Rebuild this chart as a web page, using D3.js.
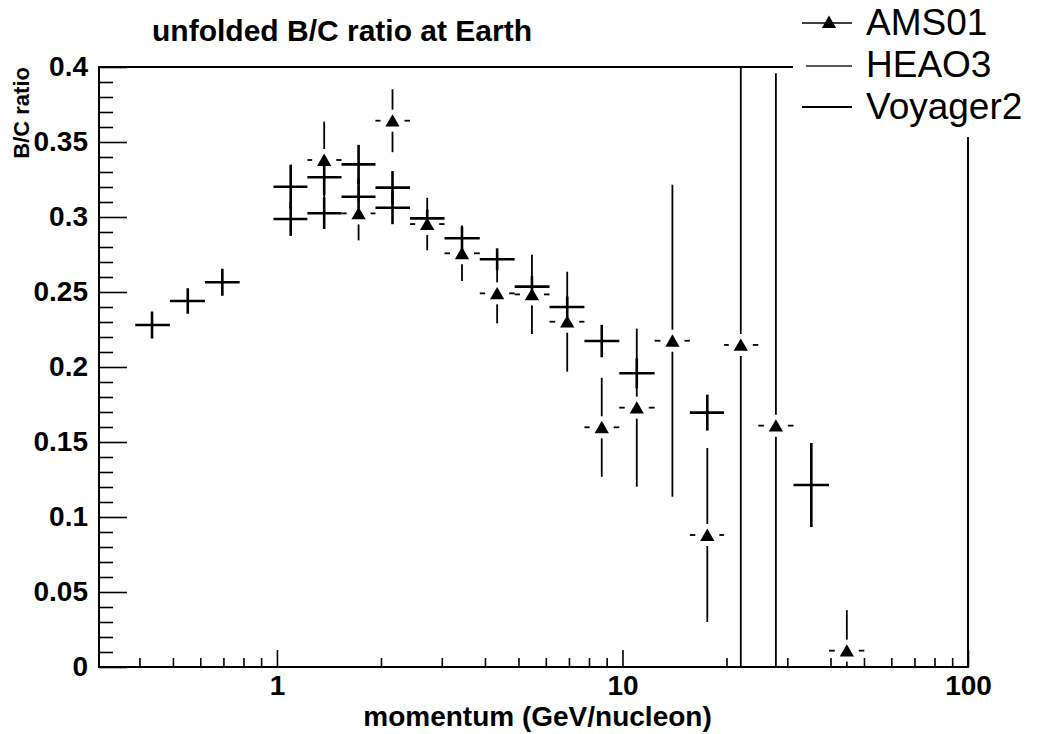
<!DOCTYPE html>
<html>
<head>
<meta charset="utf-8">
<script src="https://cdn.jsdelivr.net/npm/d3@7"></script>
<style>
  html, body { margin: 0; padding: 0; background: #fff; }
  svg { display: block; font-family: "Liberation Sans", Arial, Helvetica, sans-serif; }
</style>
</head>
<body>
<svg id="chart" width="1052" height="734"></svg>
<script>
// ---- data: B/C ratio versus kinetic energy per nucleon ----
// AMS01 (triangles)
const amsX    = [1.370, 1.723, 2.160, 2.722, 3.432, 4.338, 5.47, 6.92, 8.71, 11.0, 13.95, 17.6, 22.0, 27.8, 44.6];
const amsXLo  = [1.225, 1.538, 1.928, 2.427, 3.055, 3.864, 4.875, 6.15, 7.76, 9.79, 12.39, 15.67, 19.68, 24.72, 39.6];
const amsXHi  = [1.538, 1.928, 2.427, 3.055, 3.864, 4.875, 6.15, 7.76, 9.79, 12.39, 15.67, 19.68, 24.72, 31.26, 50.1];
const amsY    = [0.338, 0.3024, 0.3642, 0.2953, 0.2758, 0.2491, 0.2484, 0.2302, 0.1598, 0.1729, 0.2175, 0.088, 0.2147, 0.1609, 0.0109];
const amsErr  = [0.0256, 0.018, 0.021, 0.0175, 0.0185, 0.020, 0.0264, 0.0333, 0.033, 0.0527, 0.104, 0.058, 0.25, 0.235, 0.027];

// HEAO3 (crosses)
const heaoX   = [1.096, 1.370, 1.723, 2.160, 2.722, 3.432, 4.338, 5.47, 6.92, 8.71, 11.0, 17.6, 35.2];
const heaoXLo = [0.977, 1.225, 1.538, 1.928, 2.427, 3.055, 3.864, 4.875, 6.15, 7.76, 9.79, 15.67, 31.26];
const heaoXHi = [1.225, 1.538, 1.928, 2.427, 3.055, 3.864, 4.875, 6.15, 7.76, 9.79, 12.39, 19.68, 39.6];
const heaoY   = [0.3202, 0.3265, 0.3351, 0.3196, 0.2991, 0.2858, 0.2718, 0.2536, 0.240, 0.2173, 0.1958, 0.1696, 0.1213];
const heaoErr = [0.0147, 0.012, 0.013, 0.011, 0.006, 0.0078, 0.0073, 0.007, 0.007, 0.0108, 0.010, 0.012, 0.028];

// Voyager2 (crosses)
const voyX    = [0.435, 0.552, 0.695, 1.096, 1.370, 1.723, 2.160];
const voyXLo  = [0.389, 0.490, 0.619, 0.977, 1.225, 1.538, 1.928];
const voyXHi  = [0.490, 0.619, 0.780, 1.225, 1.538, 1.928, 2.427];
const voyY    = [0.228, 0.244, 0.2565, 0.2987, 0.3025, 0.3135, 0.3062];
const voyErr  = [0.009, 0.0085, 0.009, 0.0113, 0.0105, 0.012, 0.011];

// axis ticks and labels
const xMajorTicks = [1, 10, 100];
const xMajorLabels = ["1", "10", "100"];
const xMinorTicks = [0.4, 0.5, 0.6, 0.7, 0.8, 0.9, 2, 3, 4, 5, 6, 7, 8, 9, 20, 30, 40, 50, 60, 70, 80, 90];
const yMajorTicks = [0, 0.05, 0.1, 0.15, 0.2, 0.25, 0.3, 0.35, 0.4];
const yMajorLabels = ["0", "0.05", "0.1", "0.15", "0.2", "0.25", "0.3", "0.35", "0.4"];
const yMinorTicks = d3.range(0, 0.4001, 0.01).filter(v => Math.abs(v * 20 - Math.round(v * 20)) > 1e-6);

const legendNames = ["AMS01", "HEAO3", "Voyager2"];
const titleText = "unfolded B/C ratio at Earth";
const xTitle = "momentum (GeV/nucleon)";
const yTitle = "B/C ratio";

// ---- layout ----
const frame = { left: 99, right: 968, top: 67, bottom: 667 };
const fontStack = "\"Liberation Sans\", Arial, Helvetica, sans-serif";
const svg = d3.select("#chart");

const x = d3.scaleLog().domain([0.3055, 100]).range([frame.left, frame.right]);
const y = d3.scaleLinear().domain([0, 0.4]).range([frame.bottom, frame.top]);

svg.append("defs").append("clipPath").attr("id", "plotClip")
  .append("rect")
  .attr("x", frame.left).attr("y", frame.top)
  .attr("width", frame.right - frame.left).attr("height", frame.bottom - frame.top);

// frame
svg.append("rect")
  .attr("x", frame.left).attr("y", frame.top)
  .attr("width", frame.right - frame.left).attr("height", frame.bottom - frame.top)
  .attr("fill", "none").attr("stroke", "#000").attr("stroke-width", 2);

// x axis: ticks point up into the frame
const xAxisG = svg.append("g").attr("transform", `translate(0,${frame.bottom})`);
xAxisG.append("g").call(
  d3.axisBottom(x).tickValues(xMinorTicks).tickSize(-9).tickFormat(""))
  .call(g => g.select(".domain").remove());
xAxisG.append("g").call(
  d3.axisBottom(x).tickValues(xMajorTicks).tickSize(-17).tickPadding(8)
    .tickFormat((d, i) => xMajorLabels[i]))
  .call(g => g.select(".domain").remove());
xAxisG.selectAll("line").attr("stroke", "#000").attr("stroke-width", 1.6);
xAxisG.selectAll("text")
  .attr("fill", "#000").attr("font-size", 28).attr("font-weight", "bold")
  .attr("font-family", fontStack);

// y axis: ticks point right into the frame
const yAxisG = svg.append("g").attr("transform", `translate(${frame.left},0)`);
yAxisG.append("g").call(
  d3.axisLeft(y).tickValues(yMinorTicks).tickSize(-14).tickFormat(""))
  .call(g => g.select(".domain").remove());
yAxisG.append("g").call(
  d3.axisLeft(y).tickValues(yMajorTicks).tickSize(-28).tickPadding(11)
    .tickFormat((d, i) => yMajorLabels[i]))
  .call(g => g.select(".domain").remove());
yAxisG.selectAll("line").attr("stroke", "#000").attr("stroke-width", 1.6);
yAxisG.selectAll("text")
  .attr("fill", "#000").attr("font-size", 28).attr("font-weight", "bold")
  .attr("font-family", fontStack);

// titles
svg.append("text").attr("x", 152).attr("y", 41)
  .attr("font-size", 30).attr("font-weight", "bold").text(titleText);
svg.append("text").attr("x", (frame.left + frame.right) / 2 + 4).attr("y", 726)
  .attr("text-anchor", "middle").attr("font-size", 28).attr("font-weight", "bold").text(xTitle);
svg.append("text")
  .attr("transform", `translate(29,${frame.top}) rotate(-90)`)
  .attr("text-anchor", "end").attr("font-size", 22).attr("font-weight", "bold").text(yTitle);

// ---- error bars ----
const plot = svg.append("g").attr("clip-path", "url(#plotClip)");

function errorBars(xs, lo, hi, ys, es, opt) {
  const g = plot.append("g")
    .attr("stroke", "#000").attr("stroke-width", opt.width).attr("fill", "none");
  xs.forEach((xv, i) => {
    const cx = x(xv), cy = y(ys[i]);
    const x0 = x(lo[i]), x1 = x(hi[i]);
    const yTop = y(ys[i] + es[i]), yBot = y(ys[i] - es[i]);
    const segs = [];
    if (opt.gapX > 0) {
      if (cx - opt.gapX > x0) segs.push([x0, cy, cx - opt.gapX, cy]);
      if (x1 > cx + opt.gapX) segs.push([cx + opt.gapX, cy, x1, cy]);
    } else {
      segs.push([x0, cy, x1, cy]);
    }
    if (opt.gapY > 0) {
      if (cy - opt.gapY > yTop) segs.push([cx, yTop, cx, cy - opt.gapY]);
      if (yBot > cy + opt.gapY) segs.push([cx, cy + opt.gapY, cx, yBot]);
    } else {
      segs.push([cx, yTop, cx, yBot]);
    }
    segs.forEach(s => g.append("line")
      .attr("x1", s[0]).attr("y1", s[1]).attr("x2", s[2]).attr("y2", s[3]));
  });
}

// triangle marker with its bounding box centred on the point
const triSize = 88;
const triH = Math.sqrt(triSize * Math.sqrt(3)) * Math.sqrt(3) / 2;
const triPath = d3.symbol(d3.symbolTriangle, triSize)();

errorBars(voyX, voyXLo, voyXHi, voyY, voyErr, { width: 2.6, gapX: 0, gapY: 0 });
errorBars(heaoX, heaoXLo, heaoXHi, heaoY, heaoErr, { width: 2.6, gapX: 0, gapY: 0 });
errorBars(amsX, amsXLo, amsXHi, amsY, amsErr, { width: 1.8, gapX: 12, gapY: 11 });

plot.append("g").selectAll("path")
  .data(amsX.map((xv, i) => [xv, amsY[i]]))
  .join("path")
  .attr("d", triPath)
  .attr("transform", d => `translate(${x(d[0])},${y(d[1]) + triH / 6})`)
  .attr("fill", "#000");

// ---- legend (covers the top-right corner of the frame) ----
const leg = svg.append("g");
leg.append("rect").attr("x", 793).attr("y", 0).attr("width", 259).attr("height", 137).attr("fill", "#fff");
const legRows = [23, 66, 107];
const legBase = [35, 77, 119];
leg.append("line").attr("x1", 802).attr("x2", 852).attr("y1", legRows[0]).attr("y2", legRows[0])
  .attr("stroke", "#000").attr("stroke-width", 1.6);
leg.append("path").attr("d", triPath)
  .attr("transform", `translate(829,${legRows[0] + triH / 6 - 1})`).attr("fill", "#000");
leg.append("line").attr("x1", 806).attr("x2", 852).attr("y1", legRows[1]).attr("y2", legRows[1])
  .attr("stroke", "#222").attr("stroke-width", 1.6);
leg.append("line").attr("x1", 802).attr("x2", 852).attr("y1", legRows[2]).attr("y2", legRows[2])
  .attr("stroke", "#000").attr("stroke-width", 2);
legendNames.forEach((name, i) => {
  leg.append("text").attr("x", 866).attr("y", legBase[i])
    .attr("font-size", 37).attr("fill", "#000").text(name);
});
</script>
</body>
</html>
